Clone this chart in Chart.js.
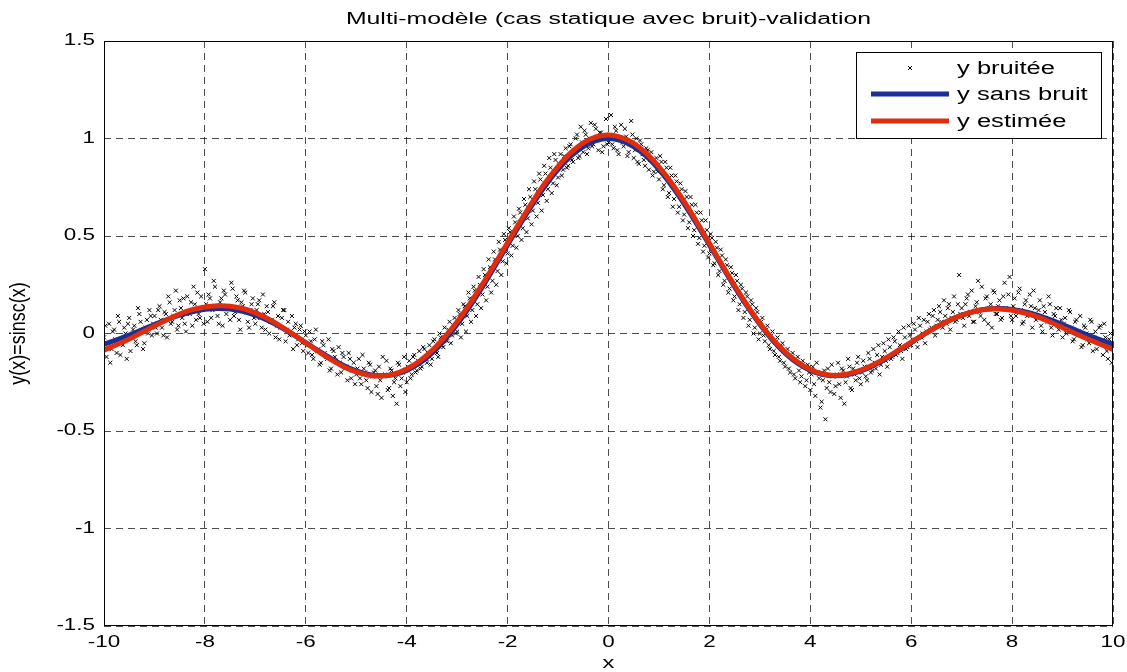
<!DOCTYPE html>
<html>
<head>
<meta charset="utf-8">
<script src="https://cdn.jsdelivr.net/npm/chart.js@4.4.1/dist/chart.umd.min.js"></script>
<style>
  html, body { margin: 0; padding: 0; background: #fff; }
  canvas { display: block; }
</style>
</head>
<body>
<canvas id="chart" width="1127" height="672"></canvas>
<script>
// données
const titleText = 'Multi-modèle (cas statique avec bruit)-validation';
const xLabel = 'x';
const yLabel = 'y(x)=sinsc(x)';
const seriesLabels = ['y bruitée', 'y sans bruit', 'y estimée'];

const xTickValues = [-10, -8, -6, -4, -2, 0, 2, 4, 6, 8, 10];
const xTickLabels = ['-10', '-8', '-6', '-4', '-2', '0', '2', '4', '6', '8', '10'];
const yTickValues = [-1.5, -1, -0.5, 0, 0.5, 1, 1.5];
const yTickLabels = ['-1.5', '-1', '-0.5', '0', '0.5', '1', '1.5'];

const curveX = [-10, -9.75, -9.5, -9.25, -9, -8.75, -8.5, -8.25, -8, -7.75, -7.5, -7.25, -7, -6.75, -6.5, -6.25,
  -6, -5.75, -5.5, -5.25, -5, -4.75, -4.5, -4.25, -4, -3.75, -3.5, -3.25, -3, -2.75, -2.5, -2.25,
  -2, -1.75, -1.5, -1.25, -1, -0.75, -0.5, -0.25, 0, 0.25, 0.5, 0.75, 1, 1.25, 1.5, 1.75,
  2, 2.25, 2.5, 2.75, 3, 3.25, 3.5, 3.75, 4, 4.25, 4.5, 4.75, 5, 5.25, 5.5, 5.75,
  6, 6.25, 6.5, 6.75, 7, 7.25, 7.5, 7.75, 8, 8.25, 8.5, 8.75, 9, 9.25, 9.5, 9.75, 10];

// y sans bruit
const cleanY = [-0.0544, -0.0327, -0.0079, 0.0188, 0.0458, 0.0714, 0.0939, 0.1118, 0.1237, 0.1283, 0.1251, 0.1135, 0.0939, 0.0667, 0.0331, -0.0053,
  -0.0466, -0.0884, -0.1283, -0.1636, -0.1918, -0.2104, -0.2172, -0.2106, -0.1892, -0.1524, -0.1002, -0.0333, 0.0470, 0.1388, 0.2394, 0.3458,
  0.4546, 0.5623, 0.6650, 0.7592, 0.8415, 0.9089, 0.9589, 0.9896, 1.0, 0.9896, 0.9589, 0.9089, 0.8415, 0.7592, 0.6650, 0.5623,
  0.4546, 0.3458, 0.2394, 0.1388, 0.0470, -0.0333, -0.1002, -0.1524, -0.1892, -0.2106, -0.2172, -0.2104, -0.1918, -0.1636, -0.1283, -0.0884,
  -0.0466, -0.0053, 0.0331, 0.0667, 0.0939, 0.1135, 0.1251, 0.1283, 0.1237, 0.1118, 0.0939, 0.0714, 0.0458, 0.0188, -0.0079, -0.0327, -0.0544];

// y estimée
const estimY = [-0.085, -0.058, -0.028, 0.005, 0.038, 0.070, 0.100, 0.122, 0.136, 0.142, 0.140, 0.128, 0.106, 0.076, 0.038, -0.004,
  -0.048, -0.092, -0.134, -0.170, -0.197, -0.214, -0.218, -0.208, -0.182, -0.142, -0.088, -0.020, 0.060, 0.152, 0.252, 0.358,
  0.466, 0.574, 0.678, 0.774, 0.857, 0.926, 0.977, 1.008, 1.018, 1.006, 0.975, 0.924, 0.855, 0.772, 0.676, 0.572,
  0.463, 0.353, 0.246, 0.145, 0.052, -0.028, -0.094, -0.146, -0.185, -0.208, -0.215, -0.207, -0.188, -0.160, -0.125, -0.085,
  -0.044, -0.004, 0.033, 0.066, 0.093, 0.113, 0.124, 0.126, 0.119, 0.105, 0.085, 0.059, 0.030, 0.000, -0.028, -0.055, -0.082];

// y bruitée, un point tous les 0.05 de -10 à 10
const noiseStart = -10;
const noiseStep = 0.05;
const noiseY = [
  -0.02, -0.12, 0.05, -0.08, 0.02, -0.10, 0.06, -0.04, 0.03, -0.13, 0.08, -0.02, 0.04, -0.06, 0.10, 0.01, -0.05, 0.07, 0.12, -0.01,
  0.09, 0.00, 0.14, 0.03, 0.11, -0.02, 0.16, 0.06, 0.12, 0.02, 0.17, 0.08, 0.05, 0.19, 0.10, 0.04, 0.15, 0.21, 0.08, 0.13,
  0.33, 0.06, 0.18, 0.12, 0.24, 0.09, 0.16, 0.04, 0.20, 0.13, 0.07, 0.23, 0.11, 0.17, 0.02, 0.14, 0.21, 0.06, 0.12, 0.18,
  0.05, 0.15, 0.08, 0.20, 0.02, 0.11, 0.06, 0.14, -0.02, 0.09, 0.03, 0.12, -0.04, 0.06, 0.01, -0.08, 0.05, -0.03, 0.04, -0.09,
  -0.01, -0.10, -0.04, -0.13, 0.02, -0.08, -0.15, -0.06, -0.12, -0.03, -0.18, -0.09, -0.14, -0.07, -0.20, -0.12, -0.17, -0.10, -0.23, -0.15,
  -0.21, -0.13, -0.26, -0.18, -0.24, -0.15, -0.30, -0.20, -0.27, -0.17, -0.33, -0.22, -0.14, -0.28, -0.19, -0.25, -0.36, -0.16, -0.23, -0.12,
  -0.25, -0.14, -0.21, -0.11, -0.19, -0.09, -0.17, -0.08, -0.15, -0.06, -0.13, -0.03, -0.10, 0.00, -0.06, 0.03, -0.04, 0.06, -0.01, 0.08,
  0.01, 0.10, 0.05, 0.14, 0.09, 0.18, 0.12, 0.22, 0.15, 0.25, 0.20, 0.30, 0.24, 0.34, 0.27, 0.38, 0.32, 0.43, 0.37, 0.48,
  0.41, 0.52, 0.45, 0.57, 0.50, 0.62, 0.54, 0.66, 0.59, 0.70, 0.63, 0.74, 0.67, 0.79, 0.71, 0.82, 0.74, 0.85, 0.77, 0.89,
  0.80, 0.92, 0.84, 0.95, 0.86, 0.97, 0.88, 1.00, 0.90, 1.06, 0.93, 1.02, 0.95, 1.08, 0.97, 1.05, 0.94, 1.03, 0.96, 1.10,
  0.98, 1.12, 0.95, 1.04, 0.92, 1.07, 0.96, 1.01, 0.93, 1.09, 0.90, 1.00, 0.87, 0.97, 0.89, 0.95, 0.84, 0.93, 0.83, 0.90,
  0.79, 0.88, 0.76, 0.85, 0.72, 0.81, 0.69, 0.78, 0.65, 0.74, 0.61, 0.70, 0.57, 0.66, 0.53, 0.62, 0.49, 0.58, 0.45, 0.53,
  0.41, 0.49, 0.36, 0.44, 0.32, 0.40, 0.27, 0.35, 0.23, 0.31, 0.19, 0.27, 0.15, 0.23, 0.11, 0.19, 0.07, 0.15, 0.03, 0.11,
  0.00, 0.08, -0.04, 0.04, -0.08, 0.01, -0.11, -0.02, -0.14, -0.05, -0.17, -0.08, -0.20, -0.10, -0.23, -0.12, -0.25, -0.14, -0.27, -0.16,
  -0.29, -0.17, -0.32, -0.20, -0.38, -0.24, -0.44, -0.18, -0.30, -0.22, -0.27, -0.15, -0.33, -0.19, -0.25, -0.13, -0.28, -0.18, -0.24, -0.12,
  -0.26, -0.14, -0.22, -0.10, -0.20, -0.08, -0.18, -0.06, -0.16, -0.05, -0.14, -0.03, -0.13, -0.02, -0.11, 0.01, -0.09, 0.03, -0.08, 0.04,
  -0.06, 0.05, -0.04, 0.08, -0.02, 0.07, 0.01, 0.10, 0.03, 0.12, 0.04, 0.14, 0.06, 0.17, 0.05, 0.15, 0.08, 0.19, 0.07, 0.30,
  0.13, 0.04, 0.18, 0.09, 0.22, 0.06, 0.16, 0.11, 0.24, 0.07, 0.19, 0.13, 0.03, 0.21, 0.10, 0.17, 0.08, 0.26, 0.12, 0.29,
  0.07, 0.18, 0.11, 0.23, 0.05, 0.15, 0.09, 0.20, 0.03, 0.13, 0.08, 0.17, 0.01, 0.11, 0.06, 0.15, -0.01, 0.09, 0.04, 0.13,
  -0.02, 0.08, 0.02, 0.11, -0.04, 0.06, -0.01, 0.09, -0.06, 0.03, -0.03, 0.07, -0.09, 0.01, -0.05, 0.04, -0.11, -0.02, -0.13, 0.00, -0.07
];

// points intercalés, de -9.975 à 9.975
const noise2Start = -9.975;
const noiseY2 = [
  0.04, -0.07, -0.15, 0.01, -0.03, 0.09, -0.11, -0.06, 0.00, 0.05, -0.09, 0.02, -0.04, 0.13, 0.06, -0.08, 0.03, 0.00, 0.09, 0.05,
  0.03, 0.12, 0.07, -0.01, 0.10, 0.19, 0.05, 0.09, 0.22, 0.04, 0.13, 0.18, 0.01, 0.11, 0.16, 0.24, 0.07, 0.10, 0.19, 0.05,
  0.15, 0.20, 0.08, 0.27, 0.13, 0.05, 0.18, 0.22, 0.10, 0.14, 0.26, 0.09, 0.19, 0.07, 0.16, 0.22, 0.11, 0.03, 0.15, 0.08,
  0.12, 0.17, 0.03, 0.10, 0.14, 0.00, 0.07, 0.16, 0.04, -0.03, 0.08, 0.12, 0.02, -0.01, 0.09, 0.03, -0.06, 0.02, -0.05, 0.01,
  -0.06, 0.01, -0.11, -0.03, -0.09, -0.16, -0.04, -0.10, -0.13, -0.19, -0.08, -0.12, -0.21, -0.15, -0.10, -0.18, -0.24, -0.13, -0.19, -0.26,
  -0.18, -0.23, -0.11, -0.20, -0.28, -0.16, -0.22, -0.19, -0.31, -0.24, -0.12, -0.21, -0.29, -0.18, -0.32, -0.23, -0.15, -0.27, -0.20, -0.30,
  -0.17, -0.23, -0.12, -0.20, -0.14, -0.18, -0.07, -0.13, -0.10, -0.16, -0.04, -0.09, -0.12, -0.02, -0.07, -0.01, 0.02, -0.05, 0.04, 0.00,
  0.12, -0.02, 0.15, 0.01, 0.21, 0.06, 0.24, 0.09, 0.29, 0.13, 0.33, 0.17, 0.38, 0.21, 0.42, 0.25, 0.47, 0.30, 0.51, 0.36,
  0.54, 0.40, 0.60, 0.44, 0.64, 0.48, 0.69, 0.52, 0.74, 0.56, 0.78, 0.60, 0.82, 0.63, 0.86, 0.68, 0.90, 0.72, 0.92, 0.76,
  0.87, 0.81, 0.91, 0.85, 0.96, 0.89, 0.93, 1.02, 0.91, 0.98, 1.04, 0.92, 1.00, 0.96, 1.07, 0.99, 1.03, 0.93, 1.01, 0.97,
  1.02, 0.97, 1.06, 0.94, 1.00, 0.98, 1.05, 0.91, 0.97, 1.02, 0.94, 0.88, 0.99, 0.92, 0.86, 0.94, 0.89, 0.81, 0.87, 0.83,
  0.91, 0.74, 0.88, 0.70, 0.85, 0.65, 0.81, 0.62, 0.77, 0.58, 0.73, 0.54, 0.70, 0.50, 0.66, 0.46, 0.62, 0.42, 0.58, 0.39,
  0.51, 0.35, 0.47, 0.30, 0.43, 0.25, 0.38, 0.21, 0.34, 0.17, 0.30, 0.12, 0.25, 0.08, 0.21, 0.04, 0.17, 0.00, 0.13, -0.03,
  0.06, -0.01, 0.02, -0.06, -0.01, -0.09, -0.04, -0.12, -0.07, -0.15, -0.10, -0.18, -0.12, -0.21, -0.14, -0.19, -0.22, -0.17, -0.24, -0.20,
  -0.21, -0.26, -0.15, -0.23, -0.35, -0.19, -0.28, -0.25, -0.16, -0.31, -0.21, -0.26, -0.18, -0.36, -0.22, -0.17, -0.29, -0.21, -0.15, -0.23,
  -0.20, -0.17, -0.24, -0.13, -0.19, -0.15, -0.11, -0.21, -0.12, -0.09, -0.17, -0.07, -0.12, -0.04, -0.10, -0.06, -0.13, -0.02, -0.07, -0.01,
  -0.03, 0.02, -0.07, 0.04, 0.00, -0.05, 0.06, 0.02, 0.09, -0.01, 0.07, 0.11, 0.03, 0.09, 0.13, 0.02, 0.11, 0.06, 0.15, 0.10,
  0.08, 0.15, 0.20, 0.11, 0.06, 0.14, 0.27, 0.09, 0.12, 0.18, 0.05, 0.15, 0.22, 0.10, 0.14, 0.07, 0.19, 0.13, 0.20, 0.09,
  0.14, 0.09, 0.21, 0.12, 0.06, 0.17, 0.10, 0.14, 0.22, 0.07, 0.12, 0.04, 0.14, 0.08, 0.19, 0.03, 0.10, 0.13, 0.02, 0.07,
  0.05, 0.00, 0.12, 0.03, -0.03, 0.07, 0.01, -0.07, 0.04, 0.00, -0.05, 0.06, -0.02, -0.08, 0.03, -0.04, 0.05, -0.09, -0.03, -0.15
];

const BLEU = '#1b2f96';
const ROUGE = '#e02d0e';
const FONT = '"Liberation Sans", Arial, Helvetica, sans-serif';

const noisePoints = noiseY.map((y, i) => ({ x: +(noiseStart + i * noiseStep).toFixed(3), y }))
  .concat(noiseY2.map((y, i) => ({ x: +(noise2Start + i * noiseStep).toFixed(3), y })));
const cleanPoints = curveX.map((x, i) => ({ x, y: cleanY[i] }));
const estimPoints = curveX.map((x, i) => ({ x, y: estimY[i] }));

// texte étiré horizontalement comme l'export matlab
function drawStretched(ctx, text, x, y, align, baseline, size, sx) {
  ctx.save();
  ctx.translate(x, y);
  ctx.scale(sx, 1);
  ctx.font = `${size}px ${FONT}`;
  ctx.fillStyle = '#000';
  ctx.textAlign = align;
  ctx.textBaseline = baseline;
  ctx.fillText(text, 0, 0);
  ctx.restore();
}

const matlabDecor = {
  id: 'matlabDecor',
  afterDraw(chart) {
    const ctx = chart.ctx;
    const area = chart.chartArea;
    const xs = chart.scales.x;
    const ys = chart.scales.y;

    // cadre
    ctx.save();
    ctx.strokeStyle = '#000';
    ctx.lineWidth = 1;
    ctx.setLineDash([]);
    ctx.strokeRect(Math.round(area.left) + 0.5, Math.round(area.top) + 0.5,
      Math.round(area.right - area.left) - 1, Math.round(area.bottom - area.top) - 1);
    ctx.restore();

    // graduations
    xs.ticks.forEach((t, i) => {
      drawStretched(ctx, xTickLabels[i], xs.getPixelForValue(t.value), area.bottom + 21, 'center', 'alphabetic', 16, 1.4);
    });
    ys.ticks.forEach((t, i) => {
      drawStretched(ctx, yTickLabels[i], area.left - 9, ys.getPixelForValue(t.value), 'right', 'middle', 16, 1.4);
    });

    // titres
    drawStretched(ctx, titleText, (area.left + area.right) / 2, area.top - 17, 'center', 'alphabetic', 16, 1.55);
    drawStretched(ctx, xLabel, (area.left + area.right) / 2, area.bottom + 42, 'center', 'alphabetic', 17, 1.4);
    ctx.save();
    ctx.translate(19, (area.top + area.bottom) / 2);
    ctx.rotate(-Math.PI / 2);
    ctx.scale(1, 1.2);
    ctx.font = `18px ${FONT}`;
    ctx.fillStyle = '#000';
    ctx.textAlign = 'center';
    ctx.textBaseline = 'middle';
    ctx.fillText(yLabel, 0, 0);
    ctx.restore();

    // légende
    const bx = area.right - 257, by = area.top + 11, bw = 245, bh = 86;
    ctx.save();
    ctx.fillStyle = '#fff';
    ctx.fillRect(bx, by, bw, bh);
    ctx.strokeStyle = '#000';
    ctx.lineWidth = 1;
    ctx.strokeRect(bx + 0.5, by + 0.5, bw, bh);
    const rows = [by + 16, by + 42, by + 69];
    // marqueur x
    ctx.strokeStyle = '#000';
    ctx.lineWidth = 1;
    ctx.beginPath();
    ctx.moveTo(bx + 52, rows[0] - 2); ctx.lineTo(bx + 56, rows[0] + 2);
    ctx.moveTo(bx + 56, rows[0] - 2); ctx.lineTo(bx + 52, rows[0] + 2);
    ctx.stroke();
    ctx.lineWidth = 5;
    ctx.strokeStyle = BLEU;
    ctx.beginPath(); ctx.moveTo(bx + 15, rows[1]); ctx.lineTo(bx + 93, rows[1]); ctx.stroke();
    ctx.strokeStyle = ROUGE;
    ctx.beginPath(); ctx.moveTo(bx + 15, rows[2]); ctx.lineTo(bx + 93, rows[2]); ctx.stroke();
    ctx.restore();
    seriesLabels.forEach((lbl, i) => {
      drawStretched(ctx, lbl, bx + 101, rows[i] + 1, 'left', 'middle', 18, 1.42);
    });
  }
};

new Chart(document.getElementById('chart'), {
  type: 'scatter',
  data: {
    datasets: [
      {
        label: seriesLabels[0],
        data: noisePoints,
        pointStyle: 'crossRot',
        pointRadius: 2.8,
        pointBorderColor: '#000',
        pointBackgroundColor: '#000',
        pointBorderWidth: 1,
        order: 2
      },
      {
        label: seriesLabels[1],
        data: cleanPoints,
        showLine: true,
        borderColor: BLEU,
        borderWidth: 5,
        pointRadius: 0,
        tension: 0.4,
        order: 1
      },
      {
        label: seriesLabels[2],
        data: estimPoints,
        showLine: true,
        borderColor: ROUGE,
        borderWidth: 5,
        pointRadius: 0,
        tension: 0.4,
        order: 0
      }
    ]
  },
  options: {
    responsive: false,
    animation: false,
    devicePixelRatio: 1,
    layout: { padding: { left: 0, right: 14, top: 41, bottom: 0 } },
    plugins: {
      legend: { display: false },
      tooltip: { enabled: false },
      title: { display: false }
    },
    scales: {
      x: {
        type: 'linear',
        min: -10,
        max: 10,
        afterBuildTicks: (scale) => { scale.ticks = xTickValues.map(v => ({ value: v })); },
        afterFit: (scale) => { scale.height = 46; },
        ticks: { display: false },
        grid: { color: 'rgba(0,0,0,0.7)', lineWidth: 1, drawTicks: false },
        border: { display: false, dash: [7, 5] }
      },
      y: {
        type: 'linear',
        min: -1.5,
        max: 1.5,
        afterBuildTicks: (scale) => { scale.ticks = yTickValues.map(v => ({ value: v })); },
        afterFit: (scale) => { scale.width = 104; },
        ticks: { display: false },
        grid: { color: 'rgba(0,0,0,0.7)', lineWidth: 1, drawTicks: false },
        border: { display: false, dash: [7, 5] }
      }
    }
  },
  plugins: [matlabDecor]
});
</script>
</body>
</html>
